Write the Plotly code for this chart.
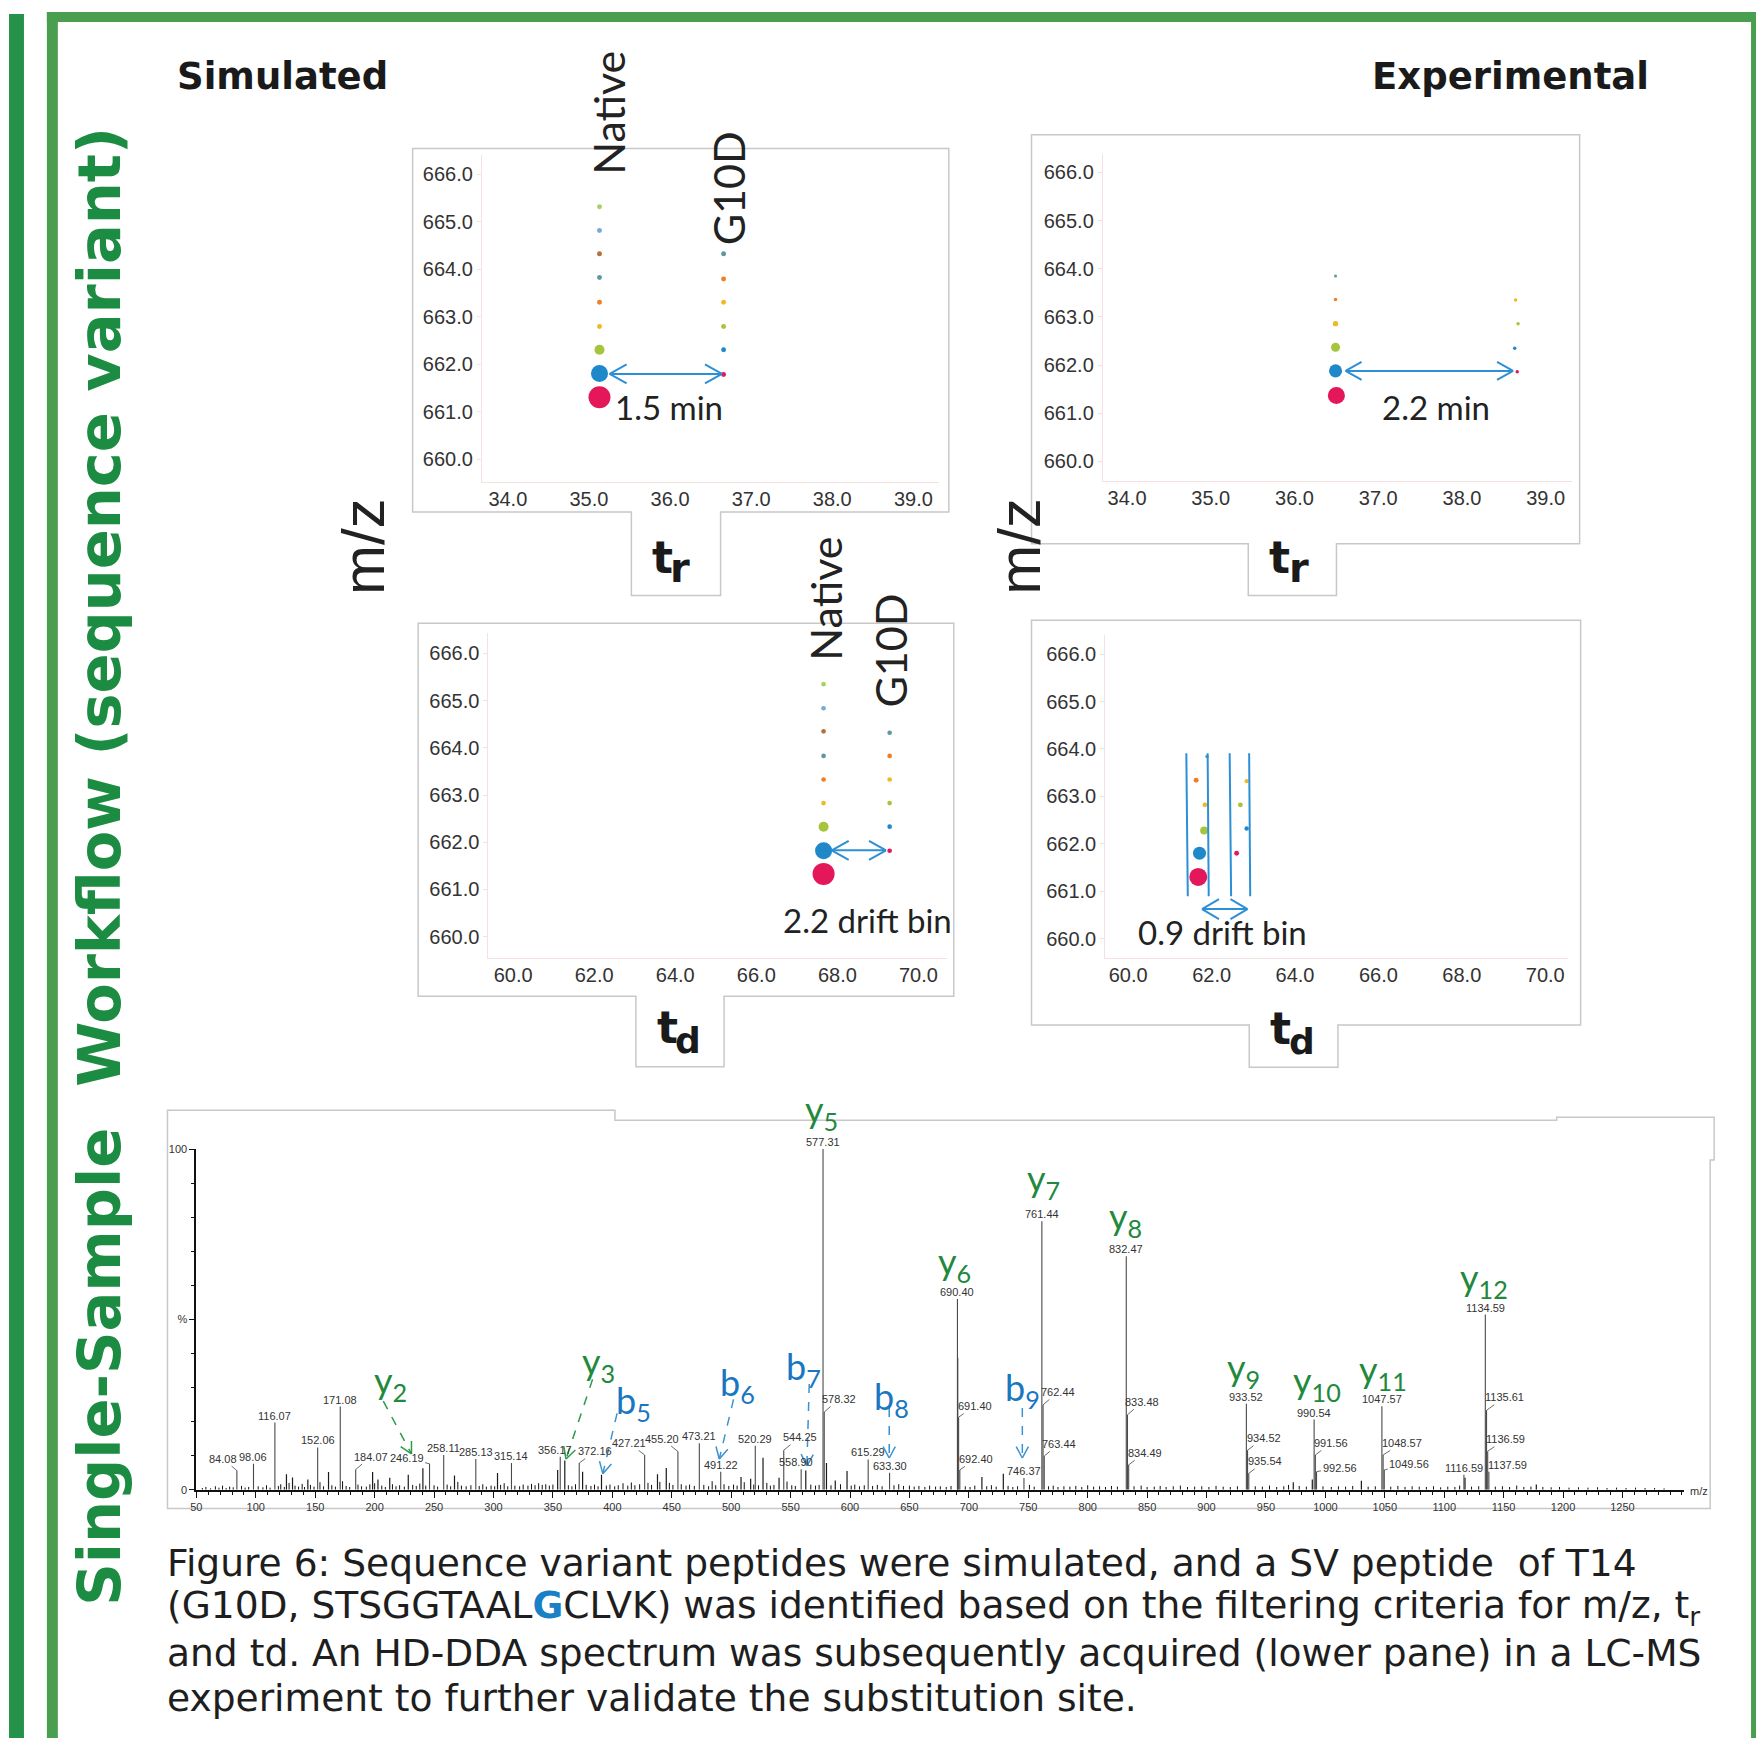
import math
import plotly.graph_objects as go

# page size and the browser's default 8px body margin (figure is offset by it)
PAGE_W, PAGE_H = 1764, 1738
OFF = 8
W, H = PAGE_W - OFF, PAGE_H - OFF

# ======================= DATA =======================
# isotope colours (monoisotopic peak first)
ISO_COLORS = ["#e5175b", "#1f88c9", "#a6c53c", "#efb826", "#ef7e24",
              "#5f98a1", "#b3713f", "#76aad8", "#aacf66"]

# --- Simulated: m/z vs retention time (min)
sim_tr_nat_tr = [35.13, 35.13, 35.13, 35.13, 35.13, 35.13, 35.13, 35.13, 35.13]
sim_tr_nat_mz = [661.31, 661.81, 662.31, 662.80, 663.31, 663.83, 664.33, 664.82, 665.32]
sim_tr_nat_ab = [100, 60, 21, 5, 5, 5, 5, 5, 5]
sim_tr_var_tr = [36.66, 36.66, 36.66, 36.66, 36.66, 36.66]
sim_tr_var_mz = [661.79, 662.31, 662.80, 663.31, 663.80, 664.33]
sim_tr_var_ab = [5, 5, 5, 5, 5, 5]

# --- Experimental: m/z vs retention time (min)
exp_tr_nat_tr = [36.50, 36.49, 36.49, 36.49, 36.49, 36.49]
exp_tr_nat_mz = [661.37, 661.88, 662.37, 662.86, 663.36, 663.85]
exp_tr_nat_ab = [60, 35, 17, 6, 2.5, 2]
exp_tr_var_tr = [38.66, 38.63, 38.67, 38.64]
exp_tr_var_mz = [661.86, 662.35, 662.86, 663.35]
exp_tr_var_ab = [2.5, 2.5, 2.5, 2.5]

# --- Simulated: m/z vs drift time (bins)
sim_td_nat_td = [67.66, 67.66, 67.66, 67.66, 67.66, 67.66, 67.66, 67.66, 67.66]
sim_td_nat_mz = [661.33, 661.82, 662.33, 662.83, 663.33, 663.83, 664.35, 664.84, 665.35]
sim_td_nat_ab = [100, 60, 21, 4.5, 4.5, 4.5, 4.5, 4.5, 4.5]
sim_td_var_td = [69.29, 69.29, 69.29, 69.29, 69.29, 69.29]
sim_td_var_mz = [661.82, 662.33, 662.83, 663.33, 663.83, 664.32]
sim_td_var_ab = [4.5, 4.5, 4.5, 4.5, 4.5, 4.5]

# --- Experimental: m/z vs drift time (bins)
exp_td_nat_td = [61.68, 61.71, 61.82, 61.84, 61.63, 61.89]
exp_td_nat_mz = [661.30, 661.80, 662.28, 662.82, 663.34, 663.84]
exp_td_nat_ab = [67, 35, 13, 5, 5, 2.5]
exp_td_var_td = [62.60, 62.84, 62.69, 62.84]
exp_td_var_mz = [661.80, 662.32, 662.82, 663.32]
exp_td_var_ab = [5, 4, 5, 3.5]
# drift-bin windows drawn in the experimental td panel
win_td_top = [61.394, 61.905, 62.433, 62.900]
win_td_bot = [61.429, 61.931, 62.468, 62.926]
win_mz_top = 663.907
win_mz_bot = 660.889

# shifts between native and variant (arrow from, arrow to, at m/z)
shift_tl = (35.255, 36.64, 661.80)
shift_tr = (36.61, 38.61, 661.88)
shift_ml = (67.86, 69.20, 661.83)
shift_mr = (61.77, 62.86, 660.62)

tr_ticks = [34, 35, 36, 37, 38, 39]
td_ticks = [60, 62, 64, 66, 68, 70]
mz_ticks = [660, 661, 662, 663, 664, 665, 666]

# --- HD-DDA MS/MS spectrum: labelled peaks (m/z, relative intensity %)
peak_mz = [84.08, 98.06, 116.07, 152.06, 171.08, 184.07, 246.19, 258.11, 285.13, 315.14,
           356.17, 372.16, 427.21, 455.20, 473.21, 491.22, 520.29, 544.25, 558.90, 577.31,
           578.32, 615.29, 633.30, 690.40, 691.40, 692.40, 746.37, 761.44, 762.44, 763.44,
           832.47, 833.48, 834.49, 933.52, 934.52, 935.54, 990.54, 991.56, 992.56, 1047.57,
           1048.57, 1049.56, 1116.59, 1134.59, 1135.61, 1136.59, 1137.59]
peak_int = [5.6, 7.6, 19.7, 12.4, 24.4, 5.9, 7.6, 10.2, 9.0, 7.8,
            9.7, 7.8, 10.2, 11.2, 13.6, 5.3, 12.9, 11.6, 6.0, 100.0,
            22.8, 8.9, 5.0, 56.0, 21.3, 5.8, 3.4, 78.8, 24.9, 9.9,
            68.5, 22.0, 7.3, 25.2, 11.6, 4.8, 20.6, 10.2, 5.3, 24.5,
            10.2, 5.8, 4.4, 51.4, 23.3, 11.3, 5.3]

# unlabelled fragment peaks
minor_peaks = [(125.8, 4.5), (130.9, 3.6), (143.8, 3.0), (161.2, 5.2), (198.3, 5.2), (202.8, 3.0),
               (212.7, 3.5), (228.3, 4.4), (240.6, 6.3), (267.2, 4.2), (303.4, 4.9), (354.0, 5.8),
               (360.0, 8.6), (375.0, 5.3), (390.9, 4.4), (438.0, 4.5), (445.4, 6.4), (508.3, 3.7),
               (516.4, 3.2), (526.8, 9.4), (540.3, 3.5), (562.8, 5.6), (580.2, 7.8), (587.6, 2.7),
               (597.5, 5.5), (690.6, 38.7), (711.0, 3.7), (729.0, 4.7), (973.0, 2.2), (989.0, 3.0),
               (1030.3, 2.6), (1117.5, 3.5), (1177.5, 1.5)]

# baseline noise
noise_peaks = [(55, 0.5), (58, 0.8), (62, 0.4), (66, 1.0), (69, 0.6), (72, 1.2), (75, 0.5), (78, 0.9),
               (81, 0.7), (88, 1.1), (91, 0.6), (94, 0.8), (102, 1.0), (106, 0.7), (109, 1.3), (112, 0.6),
               (119, 1.1), (121, 1.6), (124, 0.8), (128, 2.0), (133, 1.2), (136, 0.9), (139, 1.7), (141, 0.8),
               (146, 1.4), (149, 0.9), (154, 2.2), (157, 1.0), (164, 1.3), (167, 0.9), (173, 2.5), (176, 1.1),
               (179, 0.8), (186, 1.5), (189, 1.0), (193, 0.9), (196, 1.6), (200, 1.9), (206, 1.2), (209, 0.8),
               (215, 1.6), (218, 1.0), (221, 1.3), (225, 0.9), (232, 1.4), (235, 1.1), (238, 1.8), (243, 1.2),
               (250, 1.3), (253, 0.9), (261, 1.5), (264, 1.0), (270, 2.3), (273, 1.2), (277, 1.0), (281, 1.3),
               (288, 1.1), (291, 1.6), (294, 0.9), (298, 1.2), (301, 1.0), (306, 1.4), (309, 1.9), (312, 1.0),
               (318, 1.2), (322, 1.0), (325, 1.5), (329, 1.2), (332, 1.7), (335, 1.3), (338, 1.9), (341, 1.4),
               (344, 1.6), (347, 1.2), (350, 1.5), (363, 1.3), (366, 1.0), (369, 1.6), (378, 1.4), (382, 1.1),
               (385, 1.5), (388, 1.0), (395, 1.2), (398, 1.5), (402, 1.0), (405, 1.3), (409, 1.9), (413, 1.2),
               (416, 2.1), (419, 1.3), (423, 1.6), (430, 2.0), (433, 1.4), (440, 2.3), (448, 2.0), (451, 1.4),
               (458, 1.6), (462, 1.2), (465, 1.5), (469, 1.1), (477, 1.4), (481, 1.0), (484, 2.5), (487, 1.3),
               (494, 1.6), (498, 1.1), (502, 1.5), (505, 1.2), (511, 2.2), (519, 1.5), (523, 1.3), (530, 2.0),
               (533, 1.2), (536, 1.4), (547, 2.4), (551, 1.3), (554, 1.1), (567, 1.5), (571, 1.2), (574, 1.4),
               (584, 1.3), (592, 1.6), (601, 1.2), (604, 1.5), (608, 1.0), (612, 1.3), (619, 1.1), (623, 1.4),
               (627, 1.0), (637, 1.3), (641, 1.6), (645, 1.1), (650, 1.2), (654, 0.9), (658, 1.1), (663, 0.8),
               (667, 1.2), (672, 0.9), (676, 1.0), (681, 0.8), (685, 1.1), (697, 1.0), (701, 0.8), (705, 1.2),
               (715, 1.0), (719, 1.3), (723, 0.9), (733, 1.1), (737, 0.8), (741, 1.0), (751, 1.4), (755, 0.9),
               (767, 1.0), (771, 1.2), (775, 0.8), (780, 1.0), (785, 0.9), (790, 1.1), (795, 0.8), (800, 1.3),
               (805, 0.9), (810, 1.0), (815, 0.8), (820, 1.1), (825, 0.9), (839, 1.0), (845, 1.2), (850, 0.8),
               (856, 0.9), (861, 1.1), (866, 0.8), (872, 1.0), (878, 1.2), (884, 0.8), (890, 0.9), (896, 1.0),
               (902, 0.8), (908, 1.1), (914, 0.9), (920, 0.8), (926, 1.0), (941, 1.0), (947, 0.9), (953, 1.2),
               (959, 0.8), (965, 1.0), (969, 1.4), (978, 1.1), (984, 0.9), (998, 1.0), (1005, 0.8), (1011, 1.0),
               (1017, 0.9), (1023, 1.1), (1036, 0.9), (1042, 1.0), (1055, 0.9), (1061, 1.1), (1067, 0.8),
               (1073, 1.0), (1079, 0.9), (1085, 0.8), (1091, 1.0), (1097, 0.7), (1103, 0.9), (1109, 0.8),
               (1113, 1.2), (1123, 0.9), (1129, 1.0), (1143, 0.9), (1149, 1.0), (1155, 0.8), (1161, 1.2),
               (1167, 0.8), (1173, 0.9), (1183, 0.8), (1190, 0.7), (1197, 0.8), (1205, 0.6), (1213, 0.7),
               (1221, 0.6), (1229, 0.7), (1237, 0.5), (1245, 0.6), (1253, 0.5), (1261, 0.6), (1269, 0.5),
               (1277, 0.5), (1285, 0.4)]

spec_ticks = [50, 100, 150, 200, 250, 300, 350, 400, 450, 500, 550, 600, 650,
              700, 750, 800, 850, 900, 950, 1000, 1050, 1100, 1150, 1200, 1250]

# fragment ion annotations: name, series, label position (m/z, %), arrow (from -> to) or None
ion_names = ["2", "3", "5", "6", "7", "5", "8", "6", "9", "7", "8", "9", "10", "11", "12"]
ion_series = ["y", "y", "b", "b", "b", "y", "b", "y", "b", "y", "y", "y", "y", "y", "y"]
ion_lab_mz = [213.5, 388.0, 418.0, 505.0, 560.7, 576.0, 635.0, 688.0, 745.0, 763.0, 831.5, 931.0, 993.0, 1048.7, 1133.4]
ion_lab_int = [31.5, 37.0, 25.7, 31.0, 35.6, 111.0, 26.8, 66.5, 29.4, 90.7, 79.5, 35.3, 31.5, 34.8, 61.8]
ion_arrows = [((207.3, 26.0), (231.0, 10.5)), ((383.4, 32.4), (361.0, 9.0)), ((404.0, 22.4), (392.0, 4.7)),
              ((502.0, 26.5), (490.0, 9.0)), ((565.7, 31.0), (563.7, 7.0)), None,
              ((633.0, 24.0), (633.0, 9.3)), None, ((745.0, 24.0), (745.0, 9.3)),
              None, None, None, None, None, None]

caption_lines = [
    "Figure 6: Sequence variant peptides were simulated, and a SV peptide\u00a0 of T14",
    "(G10D, STSGGTAAL<b><span style='color:#1a80c6'>G</span></b>CLVK) was identified based on the filtering criteria for m/z, t<sub>r</sub>",
    "and td. An HD-DDA spectrum was subsequently acquired (lower pane) in a LC-MS",
    "experiment to further validate the substitution site.",
]

# ======================= GEOMETRY / STYLE (page pixels) =======================
AX = {
    "1": dict(xr=(33.68, 39.32), yr=(659.52, 666.42), px=(477.5, 936.5), py=(149.5, 479.5)),
    "2": dict(xr=(33.71, 39.31), yr=(659.59, 666.39), px=(1100.5, 1571.0), py=(148.5, 478.5)),
    "3": dict(xr=(59.39, 70.70), yr=(659.55, 666.43), px=(484.0, 944.0), py=(631.5, 958.5)),
    "4": dict(xr=(59.45, 70.55), yr=(659.58, 666.40), px=(1103.0, 1567.5), py=(633.5, 959.0)),
    "5": dict(xr=(50, 1302), yr=(0, 100), px=(191.0, 1684.0), py=(1151.0, 1494.0)),
}


def pp(X, Y):
    """page pixel -> paper fraction"""
    return (X - OFF) / W, 1 - (Y - OFF) / H


def to_px(k, xv, yv):
    a = AX[k]
    X = a["px"][0] + (xv - a["xr"][0]) / (a["xr"][1] - a["xr"][0]) * (a["px"][1] - a["px"][0])
    Y = a["py"][1] - (yv - a["yr"][0]) / (a["yr"][1] - a["yr"][0]) * (a["py"][1] - a["py"][0])
    return X, Y


def scale(k):
    a = AX[k]
    return ((a["px"][1] - a["px"][0]) / (a["xr"][1] - a["xr"][0]),
            (a["py"][1] - a["py"][0]) / (a["yr"][1] - a["yr"][0]))


def refs(k):
    return ("x" if k == "1" else "x" + k), ("y" if k == "1" else "y" + k)


BLUE = "#2d8fd5"
GREEN_T = "#1d8c43"
Y_COL = "#22893c"
B_COL = "#1877c0"
LATO = "Lato, Open Sans, sans-serif"
ARIAL = "Liberation Sans, Arial, sans-serif"
DEJ = "DejaVu Sans, Verdana, sans-serif"

fig = go.Figure()

# ---------- scatter panels ----------
clusters = [
    ("1", sim_tr_nat_tr, sim_tr_nat_mz, sim_tr_nat_ab), ("1", sim_tr_var_tr, sim_tr_var_mz, sim_tr_var_ab),
    ("2", exp_tr_nat_tr, exp_tr_nat_mz, exp_tr_nat_ab), ("2", exp_tr_var_tr, exp_tr_var_mz, exp_tr_var_ab),
    ("3", sim_td_nat_td, sim_td_nat_mz, sim_td_nat_ab), ("3", sim_td_var_td, sim_td_var_mz, sim_td_var_ab),
    ("4", exp_td_nat_td, exp_td_nat_mz, exp_td_nat_ab), ("4", exp_td_var_td, exp_td_var_mz, exp_td_var_ab),
]
for k, xs, ys, ab in clusters:
    xa, ya = refs(k)
    fig.add_trace(go.Scatter(
        x=xs, y=ys, mode="markers", xaxis=xa, yaxis=ya, cliponaxis=False,
        marker=dict(size=[22 * math.sqrt(a / 100.0) for a in ab], color=ISO_COLORS[:len(xs)],
                    line=dict(width=0), opacity=1),
        hoverinfo="skip", showlegend=False))


# ---------- spectrum sticks ----------
def sticks(mzs, ints):
    xs, ys = [], []
    for m, i in zip(mzs, ints):
        xs += [m, m, None]
        ys += [0, i, None]
    return xs, ys


nx, ny = sticks([p[0] for p in noise_peaks], [p[1] for p in noise_peaks])
fig.add_trace(go.Scatter(x=nx, y=ny, mode="lines", xaxis="x5", yaxis="y5",
                         line=dict(color="#111111", width=1), hoverinfo="skip", showlegend=False))
mx, my = sticks([p[0] for p in minor_peaks], [p[1] for p in minor_peaks])
fig.add_trace(go.Scatter(x=mx, y=my, mode="lines", xaxis="x5", yaxis="y5",
                         line=dict(color="#1a1a1a", width=1.2), hoverinfo="skip", showlegend=False))
px_, py_ = sticks(peak_mz, peak_int)
fig.add_trace(go.Scatter(x=px_, y=py_, mode="lines", xaxis="x5", yaxis="y5",
                         line=dict(color="#4a4a4a", width=1.1), hoverinfo="skip", showlegend=False))

# ---------- axes ----------
layout_axes = {}
for k, a in AX.items():
    xa, ya = refs(k)
    xkey = "xaxis" if k == "1" else "xaxis" + k
    ykey = "yaxis" if k == "1" else "yaxis" + k
    xdom = [(a["px"][0] - OFF) / W, (a["px"][1] - OFF) / W]
    ydom = [1 - (a["py"][1] - OFF) / H, 1 - (a["py"][0] - OFF) / H]
    if k != "5":
        xt = tr_ticks if k in ("1", "2") else td_ticks
        common = dict(showgrid=False, zeroline=False, showline=True, linecolor="#f4e2e2", linewidth=1,
                      tickformat=".1f", tickfont=dict(family=ARIAL, size=20, color="#333333"), fixedrange=True)
        layout_axes[xkey] = dict(range=list(a["xr"]), domain=xdom, anchor=ya, tickvals=xt, ticks="",
                                 ticklabelstandoff=-1, **common)
        layout_axes[ykey] = dict(range=list(a["yr"]), domain=ydom, anchor=xa, tickvals=mz_ticks,
                                 ticks="outside", ticklen=4, tickcolor="#f4e2e2", **common)
    else:
        layout_axes[xkey] = dict(range=list(a["xr"]), domain=xdom, anchor=ya, showgrid=False, zeroline=False,
                                 showline=True, linecolor="#111111", linewidth=2, ticks="outside", ticklen=6,
                                 tickcolor="#111111", tickwidth=1, tickvals=spec_ticks,
                                 ticktext=[str(t) for t in spec_ticks],
                                 tickfont=dict(family=ARIAL, size=11, color="#333333"),
                                 minor=dict(tick0=50, dtick=10, ticks="outside", ticklen=3, tickcolor="#111111"))
        layout_axes[ykey] = dict(range=list(a["yr"]), domain=ydom, anchor=xa, showgrid=False, zeroline=False,
                                 showline=True, linecolor="#111111", linewidth=2, ticks="outside", ticklen=5,
                                 tickcolor="#111111", tickvals=[0, 50, 100], ticktext=["0", "%", "100"],
                                 tickfont=dict(family=ARIAL, size=11, color="#333333"),
                                 minor=dict(tick0=0, dtick=10, ticks="outside", ticklen=3, tickcolor="#111111"))

shapes = []
ann = []


def path_px(points):
    s = ""
    for i, (X, Y) in enumerate(points):
        x, y = pp(X, Y)
        s += ("M" if i == 0 else "L") + f"{x:.6f},{y:.6f} "
    return s + "Z"


# green frame
for (x0, y0, x1, y1, c) in [(3, 8, 18, 1760, "#25924a"), (41, 6, 52, 1760, "#4a9e50"),
                            (41, 6, 1780, 16, "#4a9e50"), (1751, 6, 1780, 1760, "#4a9e50")]:
    a0 = pp(x0, y1)
    a1 = pp(x1, y0)
    shapes.append(dict(type="rect", xref="paper", yref="paper", x0=a0[0], y0=a0[1], x1=a1[0], y1=a1[1],
                       fillcolor=c, line=dict(width=0), layer="below"))

# panel outlines with tabs
box_pts = [
    [(408, 143.5), (946, 143.5), (946, 509.5), (717, 509.5), (717, 593.5), (627.5, 593.5), (627.5, 509.5), (408, 509.5)],
    [(1029, 129.5), (1579, 129.5), (1579, 541.5), (1335, 541.5), (1335, 593.5), (1246.5, 593.5), (1246.5, 541.5), (1029, 541.5)],
    [(413.5, 621.5), (951, 621.5), (951, 997), (720.5, 997), (720.5, 1068), (632, 1068), (632, 997), (413.5, 997)],
    [(1029, 618.5), (1580, 618.5), (1580, 1026), (1336.5, 1026), (1336.5, 1068.5), (1247.5, 1068.5), (1247.5, 1026), (1029, 1026)],
    [(162, 1112), (611, 1112), (611, 1122), (1556, 1122), (1556, 1119), (1714, 1119), (1714, 1162),
     (1710, 1162), (1710, 1513), (162, 1513)],
]
for pts in box_pts:
    shapes.append(dict(type="path", xref="paper", yref="paper", path=path_px(pts),
                       line=dict(color="#c8c8c8", width=1.5), layer="below"))


# double-headed shift arrows
def harrow(k, x0, x1, y, L=17, h=9.5):
    xa, ya = refs(k)
    out = [dict(type="line", xref=xa, yref=ya, x0=x0, x1=x1, y0=y, y1=y, line=dict(color=BLUE, width=2))]
    for xv, sgn in ((x0, 1), (x1, -1)):
        for s in (1, -1):
            out.append(dict(type="line", xref=xa, yref=ya, xsizemode="pixel", ysizemode="pixel",
                            xanchor=xv, yanchor=y, x0=0, x1=sgn * L, y0=0, y1=s * h,
                            line=dict(color=BLUE, width=2)))
    return out


shapes += harrow("1", *shift_tl)
shapes += harrow("2", *shift_tr, L=16, h=9)
shapes += harrow("3", *shift_ml)
shapes += harrow("4", *shift_mr, L=17, h=10)

for xt, xb in zip(win_td_top, win_td_bot):
    shapes.append(dict(type="line", xref="x4", yref="y4", x0=xt, y0=win_mz_top, x1=xb, y1=win_mz_bot,
                       line=dict(color=BLUE, width=2)))

# ion dashed arrows
kx, ky = scale("5")
for ser, arr in zip(ion_series, ion_arrows):
    if arr is None:
        continue
    (sx, sy), (tx, ty) = arr
    col = "#2e9a4a" if ser == "y" else "#3a92d2"
    shapes.append(dict(type="line", xref="x5", yref="y5", x0=sx, y0=sy, x1=tx, y1=ty,
                       line=dict(color=col, width=1.5, dash="dash")))
    ang = math.atan2((ty - sy) * ky, (tx - sx) * kx) + math.pi
    for s in (1, -1):
        a = ang + s * math.radians(28)
        shapes.append(dict(type="line", xref="x5", yref="y5", xsizemode="pixel", ysizemode="pixel",
                           xanchor=tx, yanchor=ty, x0=0, y0=0, x1=13 * math.cos(a), y1=13 * math.sin(a),
                           line=dict(color=col, width=1.5)))


# ---------- text ----------
def text_px(X, Y, t, size, family, color="#222222", angle=0, xanchor="center", yanchor="middle"):
    x, y = pp(X, Y)
    ann.append(dict(x=x, y=y, xref="paper", yref="paper", text=t, showarrow=False, textangle=angle,
                    xanchor=xanchor, yanchor=yanchor, font=dict(family=family, size=size, color=color)))


text_px(93, 866, "<b>Single-Sample  Workflow (sequence variant)</b>", 59, DEJ, GREEN_T, -90)
text_px(277.5, 71, "<b>Simulated</b>", 37, DEJ, "#1a1a1a")
text_px(1510, 71, "<b>Experimental</b>", 37, DEJ, "#1a1a1a")
text_px(358.5, 544.5, "m/z", 60, ARIAL, "#222222", -90)
text_px(1017.5, 544.5, "m/z", 60, ARIAL, "#222222", -90)

# axis tab labels
for (tx, ty, sx, sy, sub, ss) in [(646, 554.8, 664, 566.2, "r", 40), (1265, 554.8, 1285, 566.2, "r", 40),
                                  (651.5, 1028.8, 669, 1041.5, "d", 36), (1266, 1029.8, 1285, 1042.5, "d", 36)]:
    text_px(tx, ty, "<b>t</b>", 44, DEJ, "#1a1a1a", xanchor="left")
    text_px(sx, sy, "<b>" + sub + "</b>", ss, DEJ, "#1a1a1a", xanchor="left")

# variant labels
text_px(604.5, 107, "Native", 43, LATO, "#222222", -90)
text_px(725, 184, "G10D", 43, LATO, "#222222", -90)
text_px(822.5, 597, "Native", 43, LATO, "#222222", -90)
text_px(888, 649, "G10D", 43, LATO, "#222222", -90)

# shift values
text_px(665, 404, "1.5 min", 33, LATO, "#222222")
text_px(1434.5, 404, "2.2 min", 33, LATO, "#222222")
text_px(864.5, 920.6, "2.2 drift bin", 33, LATO, "#222222")
text_px(1221, 932, "0.9 drift bin", 33, LATO, "#222222")

# caption
for t, yc in zip(caption_lines, [1568, 1613, 1658, 1704]):
    text_px(160, yc, t, 37.6, DEJ, "#1e1e1e", xanchor="left")

# peak labels
LEADER = {"84.08": (-14, -12), "184.07": (15, -13), "246.19": (-23, -6), "372.16": (16, -12),
          "427.21": (-16, -12), "455.20": (-16, -13), "544.25": (16, -13), "578.32": (15, -13),
          "691.40": (16, -11), "692.40": (16, -11), "762.44": (15, -13), "763.44": (15, -12),
          "833.48": (15, -13), "834.49": (16, -12), "934.52": (16, -12), "935.54": (16, -12),
          "991.56": (16, -12), "992.56": (23, -4), "1048.57": (19, -12), "1049.56": (25, -6),
          "1135.61": (18, -13), "1136.59": (18, -12), "1137.59": (19, -7)}
XSHIFT = {"356.17": -5, "558.90": -5}
for m, i in zip(peak_mz, peak_int):
    lab = f"{m:.2f}"
    f = dict(family=ARIAL, size=11, color="#333333")
    if lab in LEADER:
        dx, dy = LEADER[lab]
        ann.append(dict(x=m, y=i, xref="x5", yref="y5", text=lab, showarrow=True, arrowhead=0,
                        arrowwidth=0.8, arrowcolor="#444444", ax=dx, ay=dy, standoff=0, font=f))
    else:
        ann.append(dict(x=m, y=i, xref="x5", yref="y5", text=lab, showarrow=False, xanchor="center",
                        yanchor="bottom", xshift=XSHIFT.get(lab, 0), yshift=-1, font=f))

# ion labels
for nm, ser, lm, li in zip(ion_names, ion_series, ion_lab_mz, ion_lab_int):
    X, Y = to_px("5", lm, li)
    text_px(X, Y, ser + "<sub>" + nm + "</sub>", 36, LATO, Y_COL if ser == "y" else B_COL)

# m/z label at end of spectrum axis
X, Y = to_px("5", 1302, 0)
text_px(X + 4, Y + 1, "m/z", 11, ARIAL, "#333333", xanchor="left")

fig.update_layout(
    width=W, height=H, margin=dict(l=0, r=0, t=0, b=0, pad=0),
    paper_bgcolor="white", plot_bgcolor="rgba(0,0,0,0)", showlegend=False,
    font=dict(family=ARIAL, color="#222222"),
    shapes=shapes, annotations=ann, **layout_axes)

fig.write_html("out.html", config={"displayModeBar": False, "staticPlot": True})
